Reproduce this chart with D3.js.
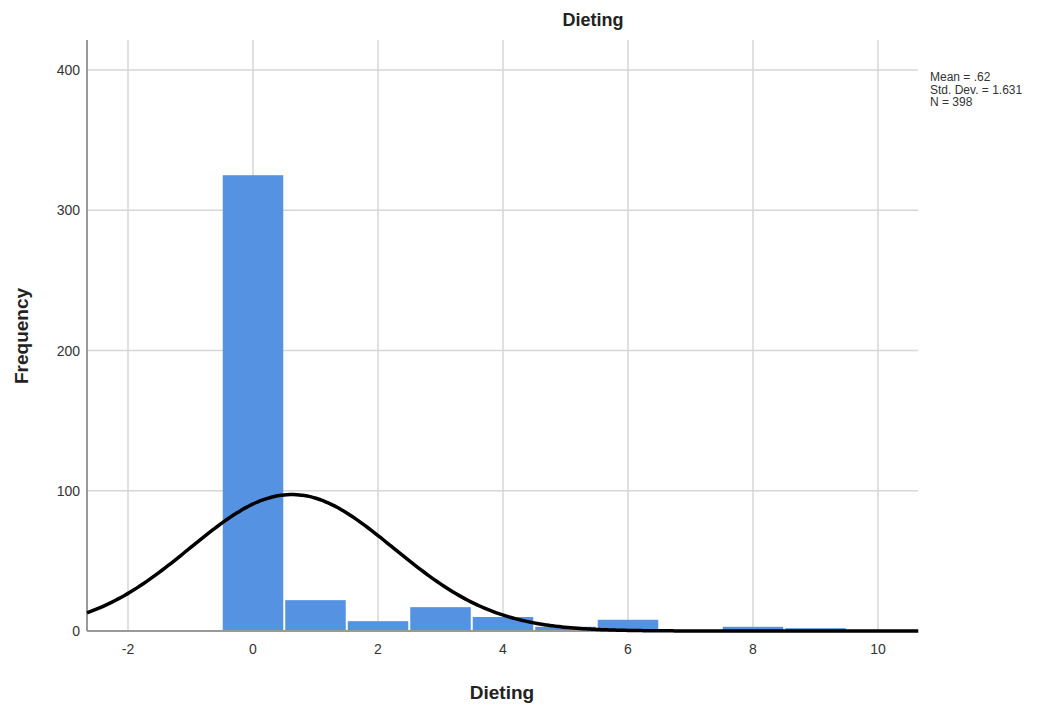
<!DOCTYPE html>
<html>
<head>
<meta charset="utf-8">
<script src="https://cdn.jsdelivr.net/npm/d3@7"></script>
<style>
	body { margin: 0; background: #fff; }
	text { font-family: Arial, "Liberation Sans", sans-serif; }
</style>
</head>
<body>
<svg id="chart" width="1057" height="711"></svg>
<script>
	// histogram data
	var binCenters = [0, 1, 2, 3, 4, 5, 6, 7, 8, 9];
	var binCounts  = [325, 22, 7, 17, 10, 3, 8, 0, 3, 2];
	var xTicks = [-2, 0, 2, 4, 6, 8, 10];
	var yTicks = [0, 100, 200, 300, 400];
	var statLines = ['Mean = .62', 'Std. Dev. = 1.631', 'N = 398'];
	var mean = 0.62, sd = 1.631, n = 398;

	var plotLeft = 87, plotRight = 918, plotTop = 40, plotBottom = 631;

	var svg = d3.select('#chart');

	var x = d3.scaleLinear().domain([-2.656, 10.64]).range([plotLeft, plotRight]);
	var y = d3.scaleLinear().domain([0, 421.4]).range([plotBottom, plotTop]);

	// gridlines
	svg.append('g').selectAll('line')
		.data(xTicks)
		.enter().append('line')
		.attr('x1', function(d){ return x(d) }).attr('x2', function(d){ return x(d) })
		.attr('y1', plotTop).attr('y2', plotBottom)
		.attr('stroke', '#d6d6d6').attr('stroke-width', 1.5);

	svg.append('g').selectAll('line')
		.data(yTicks.slice(1))
		.enter().append('line')
		.attr('x1', plotLeft).attr('x2', plotRight)
		.attr('y1', function(d){ return y(d) }).attr('y2', function(d){ return y(d) })
		.attr('stroke', '#d6d6d6').attr('stroke-width', 1.5);

	// bars
	svg.append('g').selectAll('rect')
		.data(binCenters)
		.enter().append('rect')
		.attr('x', function(d){ return x(d - 0.5) + 1 })
		.attr('width', function(d){ return x(d + 0.5) - x(d - 0.5) - 2 })
		.attr('y', function(d, i){ return y(binCounts[i]) })
		.attr('height', function(d, i){ return plotBottom - y(binCounts[i]) })
		.attr('fill', '#5593e2');

	// axes lines
	svg.append('line')
		.attr('x1', plotLeft).attr('x2', plotLeft).attr('y1', plotTop).attr('y2', plotBottom)
		.attr('stroke', '#999').attr('stroke-width', 2);
	svg.append('line')
		.attr('x1', plotLeft).attr('x2', plotRight).attr('y1', plotBottom).attr('y2', plotBottom)
		.attr('stroke', '#999').attr('stroke-width', 2);

	// normal curve from the stated mean / sd / N
	var curveX = d3.range(x.domain()[0], x.domain()[1] + 0.01, 0.05);
	var normal = d3.line()
		.x(function(d){ return x(d) })
		.y(function(d){
			var z = (d - mean) / sd;
			return y(n * Math.exp(-0.5 * z * z) / (sd * Math.sqrt(2 * Math.PI)));
		})
		.curve(d3.curveBasis);

	svg.append('path')
		.datum(curveX)
		.attr('d', normal)
		.attr('fill', 'none')
		.attr('stroke', '#000')
		.attr('stroke-width', 3.5);

	// tick labels
	svg.append('g').selectAll('text')
		.data(xTicks)
		.enter().append('text')
		.attr('x', function(d){ return x(d) })
		.attr('y', plotBottom + 23)
		.attr('text-anchor', 'middle')
		.attr('font-size', 14)
		.attr('fill', '#333')
		.text(function(d){ return d });

	svg.append('g').selectAll('text')
		.data(yTicks)
		.enter().append('text')
		.attr('x', plotLeft - 7)
		.attr('y', function(d){ return y(d) + 5 })
		.attr('text-anchor', 'end')
		.attr('font-size', 14)
		.attr('fill', '#333')
		.text(function(d){ return d });

	// titles
	svg.append('text')
		.attr('x', 593).attr('y', 26)
		.attr('text-anchor', 'middle')
		.attr('font-size', 18).attr('font-weight', 'bold')
		.attr('fill', '#222')
		.text('Dieting');

	svg.append('text')
		.attr('x', 502).attr('y', 699)
		.attr('text-anchor', 'middle')
		.attr('font-size', 19).attr('font-weight', 'bold')
		.attr('fill', '#222')
		.text('Dieting');

	svg.append('text')
		.attr('transform', 'translate(28, 336) rotate(-90)')
		.attr('text-anchor', 'middle')
		.attr('font-size', 19).attr('font-weight', 'bold')
		.attr('fill', '#222')
		.text('Frequency');

	// stats box
	svg.append('g').selectAll('text')
		.data(statLines)
		.enter().append('text')
		.attr('x', 930)
		.attr('y', function(d, i){ return 81 + i * 12.5 })
		.attr('font-size', 12)
		.attr('fill', '#333')
		.text(function(d){ return d });
</script>
</body>
</html>
